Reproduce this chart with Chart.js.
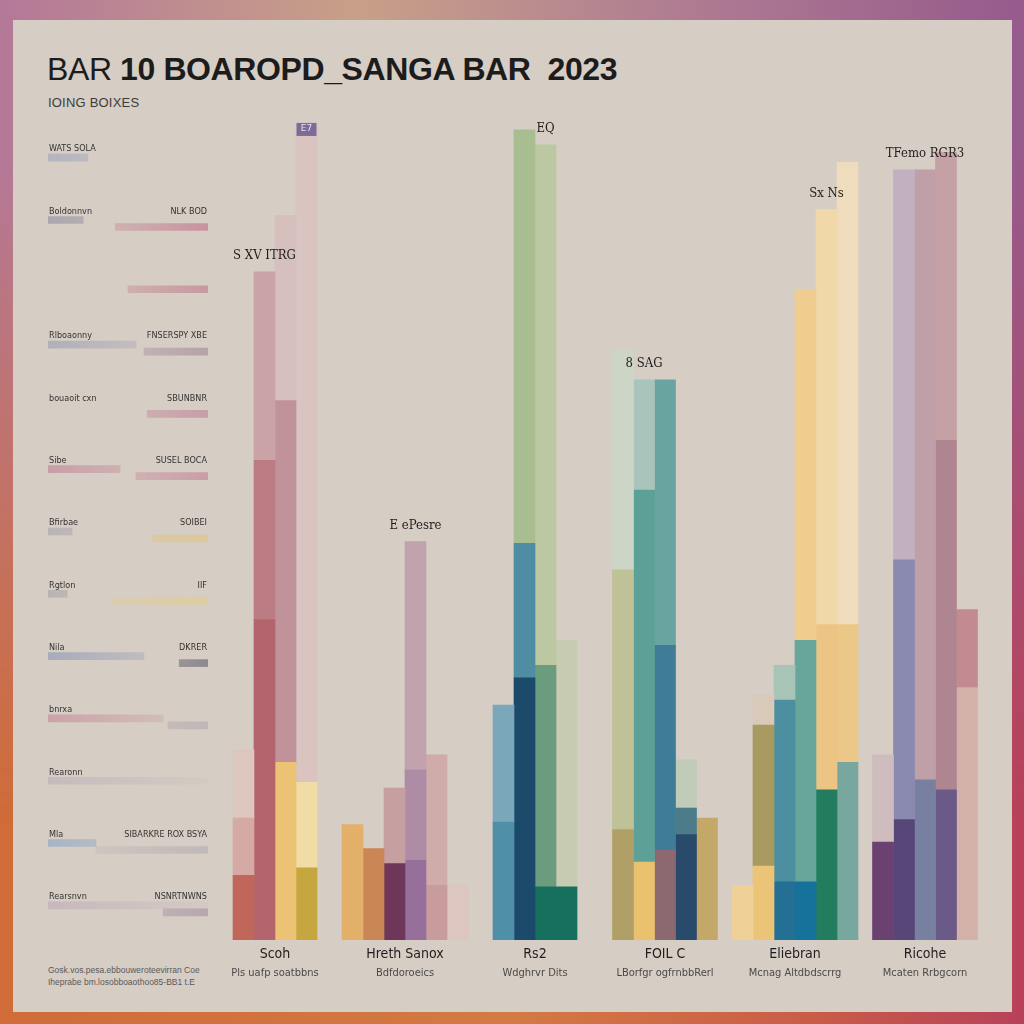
<!DOCTYPE html>
<html lang="en">
<head>
<meta charset="UTF-8">
<title>BAR 10 BOAROPD_SANGA BAR 2023</title>
<script src="https://cdn.jsdelivr.net/npm/chart.js"></script>
<style>
  html, body { margin: 0; padding: 0; width: 1024px; height: 1024px; overflow: hidden; }
  body { position: relative; font-family: "Liberation Sans", Arial, sans-serif; }
  .bg-bottom, .bg-top { position: absolute; left: 0; top: 0; width: 1024px; height: 1024px; }
  .bg-bottom { background: linear-gradient(to right, #cf6c38, #d47a42 50%, #c95b48 80%, #b8415a); }
  .bg-top {
    background: linear-gradient(to right, #b47898, #c8a088 35%, #b07e92 65%, #965a8c);
    -webkit-mask-image: linear-gradient(to bottom, #000 15%, transparent 80%);
    mask-image: linear-gradient(to bottom, #000 15%, transparent 80%);
  }
  .panel { position: absolute; left: 13px; top: 20px; width: 999px; height: 992px; background: #d6cdc4; }
  .title { position: absolute; left: 47px; top: 51px; margin: 0; font-size: 32px; line-height: 36px;
           font-weight: 700; color: #1c1c1c; white-space: nowrap; letter-spacing: -0.4px; }
  .title .thin { font-weight: 400; }
  .sub { position: absolute; left: 48px; top: 95px; font-size: 13px; color: #3c3c3c; letter-spacing: 0.2px; }
  .foot { position: absolute; left: 48px; top: 964px; font-size: 8.5px; line-height: 12px; color: #5a5a5a; }
  #mainChart { position: absolute; left: 200px; top: 100px; }
  #keyChart { position: absolute; left: 48px; top: 130px; }
</style>
</head>
<body>
<div class="bg-bottom"></div>
<div class="bg-top"></div>
<div class="panel"></div>
<h1 class="title"><span class="thin">BAR</span> 10 BOAROPD_SANGA BAR&nbsp; 2023</h1>
<div class="sub">IOING BOIXES</div>
<div class="foot">Gosk.vos.pesa.ebbouweroteevirran Coe<br>Iheprabe bm.losobboaothoo85-BB1 t.E</div>
<canvas id="keyChart" width="160" height="810"></canvas>
<canvas id="mainChart" width="800" height="900"></canvas>

<script>
// categories along the bottom
const categories = ['Scoh', 'Hreth Sanox', 'Rs2', 'FOIL C', 'Eliebran', 'Ricohe'];
const subLabels = ['Pls uafp soatbbns', 'Bdfdoroeics', 'Wdghrvr Dits', 'LBorfgr ogfrnbbRerl', 'Mcnag Altdbdscrrg', 'Mcaten Rrbgcorn'];

// each bar = stacked segments (solid base, middle, pale top)
const scohBars    = [[7.8, 6.9, 8.2], [38.6, 19.2, 22.7], [21.4, 43.6, 22.3], [8.7, 10.3, 79.2]];
const hrethBars   = [[13.9], [11.0], [9.2, 9.1], [9.6, 10.9, 27.5], [6.6, 15.7], [6.6]];
const rs2Bars     = [[14.2, 14.1], [31.6, 16.2, 49.8], [6.4, 26.7, 62.7], [6.4, 29.7]];
const foilBars    = [[13.3, 31.3, 26.5], [9.4, 44.8, 13.3], [10.8, 24.7, 32.0], [12.7, 3.2, 5.8], [14.7]];
const eliebranBars = [[6.6], [8.9, 17.0, 3.6], [7.0, 21.9, 4.2], [7.0, 29.1, 42.2], [18.1, 19.9, 50.0], [21.4, 16.6, 55.7]];
const ricoheBars  = [[11.8, 10.5], [14.5, 31.3, 47.0], [19.3, 73.5], [18.1, 42.1, 34.7], [30.4, 9.4]];
const groupValues = [scohBars, hrethBars, rs2Bars, foilBars, eliebranBars, ricoheBars];

// colours for the same segments
const groupColors = [
  [['#c0665a', '#d6aaa4', '#dcc6bd'], ['#b4646c', '#bc7c84', '#c9a3a6'], ['#ecc274', '#c0929a', '#d6c0bd'], ['#c6a63e', '#f1dca6', '#d9c4c1']],
  [['#e2b068'], ['#cb8656'], ['#6e3658', '#c6a0a0'], ['#96709a', '#ae8ca6', '#c2a2ac'], ['#c89c9c', '#cfabaa'], ['#dcc6bf']],
  [['#4f8fa8', '#7aa8ba'], ['#1b4a6b', '#4f8ea2', '#a9be90'], ['#17705e', '#6b9c7e', '#bcc8a2'], ['#17705e', '#c7cbb2']],
  [['#b0a068', '#bfc197', '#cdd5c6'], ['#e9c16f', '#5ca098', '#a9c5bb'], ['#8c6870', '#3f7c98', '#6aa4a0'], ['#2a4a6c', '#4c7c8a', '#c0ccb8'], ['#c4a868']],
  [['#efd096'], ['#ecc478', '#a89a60', '#d8c9b9'], ['#246f94', '#4b8fa0', '#a8c4b6'], ['#15729a', '#68a69c', '#efcd8f'], ['#237c5e', '#ecc584', '#f0d8a9'], ['#77a79f', '#ebc888', '#efdcbd']],
  [['#6b4171', '#cfbcbf'], ['#574779', '#8a8ab0', '#c2afbf'], ['#7880a2', '#bf9fa8'], ['#6b5987', '#b08592', '#c5a1a5'], ['#d3b1a9', '#c48a92']]
];

// small captions above some bars: [group, bar, text]
const barNotes = [[0, 1, 'S XV ITRG'], [1, 3, 'E ePesre'], [2, 2, 'EQ'], [3, 1, '8 SAG'], [4, 4, 'Sx Ns'], [5, 2, 'TFemo RGR3']];
const barTags = [[0, 3, 'E7']];

// left key rows
const rowLabels = ['WATS SOLA', 'Boldonnvn', '', 'Rlboaonny', 'bouaoit cxn', 'Sibe', 'Bfirbae', 'Rgtlon', 'Nila', 'bnrxa', 'Rearonn', 'Mla', 'Rearsnvn'];
const rowNotes = ['', 'NLK BOD', '', 'FNSERSPY XBE', 'SBUNBNR', 'SUSEL BOCA', 'SOIBEI', 'IIF', 'DKRER', '', '', 'SIBARKRE ROX BSYA', 'NSNRTNWNS'];
const leftStrip = [[0, 25], [0, 22], null, [0, 55], null, [0, 45], [0, 15], [0, 12], [0, 60], [0, 72], [0, 100], [0, 30], [0, 100]];
const rightStrip = [null, [42, 100], [50, 100], [60, 100], [62, 100], [55, 100], [65, 100], [40, 100], [82, 100], [75, 100], null, [30, 100], [72, 100]];
const leftStripColors = ['140,150,185', '120,120,150', '0,0,0', '130,140,175', '0,0,0', '185,100,130', '150,150,160',
  '150,150,160', '110,130,175', '190,110,135', '175,165,185', '110,150,200', '180,160,180'];
const rightStripColors = ['0,0,0', '185,90,120', '185,100,125', '150,120,140', '185,110,140', '190,110,140', '225,195,110',
  '230,205,120', '70,70,90', '170,160,170', '0,0,0', '170,165,175', '150,130,150'];

// build stacked datasets: one stack per bar slot, three layers per stack
const datasets = [];
for (let s = 0; s < 6; s++) {
  for (let l = 0; l < 3; l++) {
    datasets.push({
      stack: 's' + s,
      data: groupValues.map(g => (g[s] && g[s][l] !== undefined) ? g[s][l] : null),
      backgroundColor: groupColors.map(g => (g[s] && g[s][l]) ? g[s][l] : 'rgba(0,0,0,0)'),
      borderWidth: 0,
      barThickness: 21,
      skipNull: true
    });
  }
}

const mainText = {
  id: 'mainText',
  afterDatasetsDraw(chart) {
    const { ctx, chartArea, scales: { x, y } } = chart;
    ctx.save();
    ctx.textAlign = 'center';
    ctx.textBaseline = 'middle';
    categories.forEach((c, i) => {
      const px = x.getPixelForValue(i);
      ctx.fillStyle = '#1e1e1e';
      ctx.font = '14px "DejaVu Sans Condensed", "Liberation Sans"';
      ctx.fillText(c, px, chartArea.bottom + 14);
      ctx.fillStyle = '#4a4a4a';
      ctx.font = '11px "DejaVu Sans Condensed", "Liberation Sans"';
      ctx.fillText(subLabels[i], px, chartArea.bottom + 33);
    });
    const topOf = (g, s) => y.getPixelForValue(groupValues[g][s].reduce((a, b) => a + b, 0));
    barTags.forEach(([g, s, text]) => {
      const el = chart.getDatasetMeta(s * 3).data[g];
      const py = topOf(g, s);
      ctx.fillStyle = '#7c6c98';
      ctx.fillRect(el.x - 10, py - 2, 20, 13);
      ctx.fillStyle = '#e8e0ea';
      ctx.font = '9px "DejaVu Sans"';
      ctx.fillText(text, el.x, py + 4);
    });
    ctx.fillStyle = '#1e1e1e';
    ctx.font = '13px "DejaVu Serif Condensed", "Liberation Serif"';
    barNotes.forEach(([g, s, text]) => {
      const el = chart.getDatasetMeta(s * 3).data[g];
      ctx.fillText(text, el.x, topOf(g, s) - 16);
    });
    ctx.restore();
  }
};

new Chart(document.getElementById('mainChart'), {
  type: 'bar',
  data: { labels: categories, datasets: datasets },
  options: {
    responsive: false,
    animation: false,
    layout: { padding: { left: 10, right: 10, top: 10, bottom: 60 } },
    plugins: { legend: { display: false }, tooltip: { enabled: false } },
    scales: {
      x: { display: false },
      y: { display: false, stacked: true, min: 0, max: 100 }
    }
  },
  plugins: [mainText]
});

// faded strips: left ones fade out to the right, right ones fade in from the left
function stripFill(colors, fadeRight) {
  return (c) => {
    const area = c.chart.chartArea;
    const rgb = colors[c.dataIndex];
    if (!area) return 'rgba(' + rgb + ',0.3)';
    const g = c.chart.ctx.createLinearGradient(area.left, 0, area.right, 0);
    if (fadeRight) {
      g.addColorStop(0, 'rgba(' + rgb + ',0.45)');
      g.addColorStop(1, 'rgba(' + rgb + ',0.05)');
    } else {
      g.addColorStop(0, 'rgba(' + rgb + ',0.05)');
      g.addColorStop(1, 'rgba(' + rgb + ',0.5)');
    }
    return g;
  };
}

const keyText = {
  id: 'keyText',
  afterDatasetsDraw(chart) {
    const { ctx, chartArea, scales: { y } } = chart;
    ctx.save();
    ctx.textBaseline = 'middle';
    ctx.font = '9px "DejaVu Sans Condensed", "Liberation Sans"';
    ctx.fillStyle = '#333';
    rowLabels.forEach((t, i) => {
      const py = y.getPixelForValue(i) - 12;
      ctx.textAlign = 'left';
      ctx.fillText(t, chartArea.left + 1, py);
      ctx.textAlign = 'right';
      ctx.fillText(rowNotes[i], chartArea.right - 1, py);
    });
    ctx.restore();
  }
};

new Chart(document.getElementById('keyChart'), {
  type: 'bar',
  data: {
    labels: rowLabels,
    datasets: [
      { data: leftStrip, backgroundColor: stripFill(leftStripColors, true), borderWidth: 0, barThickness: 7 },
      { data: rightStrip, backgroundColor: stripFill(rightStripColors, false), borderWidth: 0, barThickness: 7 }
    ]
  },
  options: {
    indexAxis: 'y',
    responsive: false,
    animation: false,
    layout: { padding: 0 },
    plugins: { legend: { display: false }, tooltip: { enabled: false } },
    scales: {
      x: { display: false, min: 0, max: 100 },
      y: { display: false }
    }
  },
  plugins: [keyText]
});
</script>
</body>
</html>
